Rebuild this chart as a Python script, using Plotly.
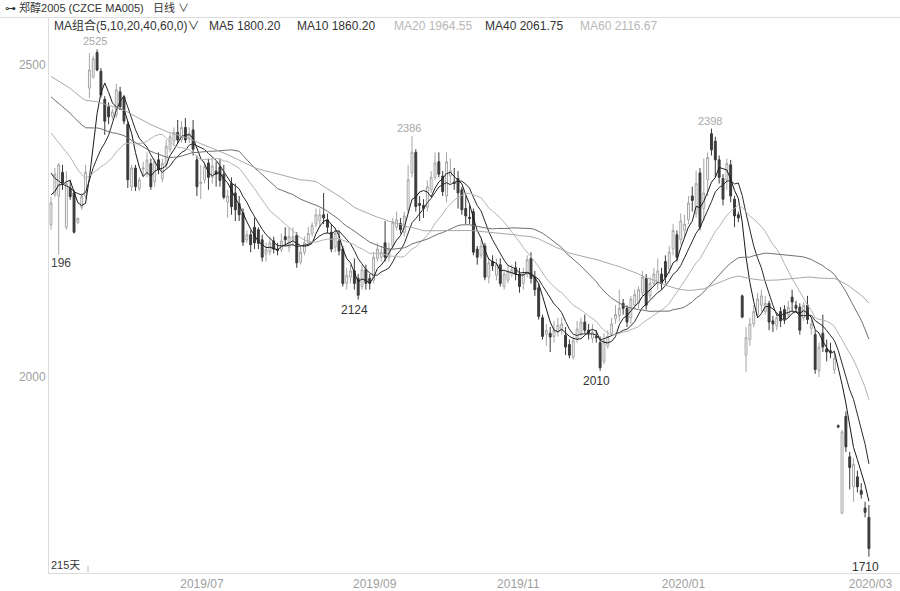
import plotly.graph_objects as go
import pandas as pd

# ---- data ----
history_closes = [2530, 2545, 2560, 2552, 2540, 2555, 2570, 2562, 2548, 2535,
                  2550, 2565, 2558, 2540, 2528, 2542, 2555, 2548, 2530, 2525,
                  2535, 2528, 2520, 2532, 2515, 2505, 2498, 2510, 2520, 2512,
                  2500, 2490, 2502, 2515, 2508, 2495, 2488, 2500, 2492, 2475,
                  2480, 2470, 2462, 2475, 2458, 2445, 2450, 2438, 2440, 2432,
                  2410, 2385, 2360, 2340, 2315, 2300, 2285, 2310, 2286]

opens = [2244, 2292, 2290, 2328, 2240, 2303, 2295, 2248, 2272, 2290,
         2463, 2481, 2520, 2490, 2445, 2433, 2418, 2420, 2457, 2449,
         2405, 2305, 2335, 2302, 2333, 2328, 2342, 2313, 2348, 2318,
         2340, 2365, 2378, 2392, 2380, 2400, 2383, 2396, 2348, 2310,
         2316, 2343, 2320, 2330, 2337, 2325, 2280, 2310, 2295, 2278,
         2263, 2220, 2228, 2240, 2236, 2220, 2197, 2200, 2218, 2205,
         2204, 2225, 2208, 2220, 2227, 2184, 2200, 2215, 2230, 2245,
         2250, 2260, 2252, 2232, 2208, 2218, 2205, 2150, 2160, 2170,
         2158, 2145, 2172, 2158, 2155, 2190, 2192, 2215, 2192, 2210,
         2240, 2246, 2232, 2268, 2327, 2360, 2278, 2275, 2272, 2300,
         2320, 2345, 2322, 2290, 2322, 2312, 2318, 2300, 2270, 2256,
         2265, 2205, 2195, 2210, 2160, 2185, 2163, 2180, 2145, 2155,
         2165, 2175, 2165, 2150, 2165, 2190, 2160, 2143, 2095, 2068,
         2070, 2065, 2072, 2075, 2067, 2052, 2032, 2060, 2070, 2088,
         2075, 2062, 2065, 2055, 2025, 2050, 2070, 2093, 2098, 2118,
         2110, 2095, 2115, 2118, 2135, 2158, 2130, 2150, 2150, 2165,
         2185, 2173, 2205, 2228, 2220, 2235, 2252, 2290, 2262, 2327,
         2270, 2316, 2390, 2378, 2348, 2318, 2316, 2340, 2285, 2260,
         2130, 2035, 2060, 2085, 2100, 2115, 2105, 2118, 2090, 2082,
         2105, 2108, 2100, 2128, 2115, 2112, 2095, 2115, 2078, 2068,
         2010, 2070, 2045, 2042, 2012, 1922, 1782, 1937, 1872, 1824,
         1840, 1818, 1790, 1775]

highs = [2289, 2335, 2343, 2340, 2330, 2316, 2300, 2256, 2295, 2340,
         2519, 2515, 2525, 2495, 2450, 2440, 2430, 2470, 2465, 2452,
         2410, 2340, 2340, 2320, 2345, 2360, 2350, 2350, 2360, 2350,
         2380, 2390, 2400, 2412, 2410, 2415, 2400, 2412, 2355, 2340,
         2345, 2350, 2350, 2345, 2350, 2340, 2300, 2320, 2310, 2290,
         2270, 2235, 2235, 2255, 2240, 2228, 2215, 2225, 2225, 2215,
         2230, 2240, 2240, 2240, 2232, 2210, 2225, 2240, 2248, 2270,
         2270, 2295, 2262, 2245, 2240, 2235, 2210, 2175, 2180, 2190,
         2165, 2180, 2180, 2165, 2200, 2215, 2210, 2250, 2215, 2255,
         2265, 2255, 2265, 2340, 2386, 2365, 2290, 2285, 2315, 2330,
         2360, 2360, 2330, 2360, 2350, 2335, 2330, 2305, 2290, 2275,
         2270, 2210, 2220, 2215, 2190, 2195, 2190, 2190, 2170, 2180,
         2180, 2185, 2175, 2175, 2195, 2200, 2170, 2150, 2100, 2085,
         2080, 2090, 2095, 2095, 2080, 2060, 2065, 2090, 2095, 2100,
         2085, 2085, 2075, 2065, 2070, 2075, 2095, 2115, 2140, 2125,
         2115, 2130, 2140, 2145, 2170, 2165, 2160, 2175, 2190, 2175,
         2195, 2210, 2245, 2235, 2262, 2260, 2290, 2305, 2330, 2335,
         2350, 2360, 2398, 2385, 2355, 2325, 2350, 2348, 2290, 2265,
         2132, 2080, 2095, 2115, 2135, 2140, 2130, 2122, 2098, 2100,
         2112, 2115, 2122, 2140, 2122, 2118, 2120, 2130, 2092, 2075,
         2055, 2100, 2060, 2055, 2040, 1924, 1915, 1945, 1880, 1870,
         1850, 1830, 1800, 1795]

lows = [2236, 2288, 2196, 2300, 2236, 2284, 2230, 2245, 2268, 2286,
        2447, 2478, 2490, 2448, 2388, 2405, 2413, 2415, 2428, 2405,
        2303, 2298, 2298, 2298, 2320, 2320, 2300, 2305, 2325, 2312,
        2335, 2360, 2370, 2375, 2375, 2375, 2375, 2355, 2290, 2285,
        2310, 2300, 2310, 2305, 2305, 2285, 2255, 2260, 2250, 2250,
        2210, 2215, 2200, 2205, 2205, 2185, 2185, 2195, 2198, 2195,
        2200, 2210, 2200, 2210, 2175, 2180, 2195, 2210, 2225, 2240,
        2240, 2245, 2230, 2200, 2200, 2195, 2145, 2140, 2150, 2140,
        2124, 2140, 2140, 2140, 2150, 2185, 2185, 2185, 2185, 2205,
        2235, 2230, 2225, 2262, 2320, 2265, 2250, 2255, 2265, 2295,
        2315, 2320, 2290, 2280, 2310, 2300, 2270, 2260, 2245, 2245,
        2195, 2180, 2190, 2155, 2150, 2170, 2155, 2145, 2140, 2150,
        2160, 2155, 2135, 2140, 2160, 2150, 2130, 2092, 2060, 2050,
        2040, 2055, 2065, 2068, 2035, 2030, 2028, 2055, 2065, 2070,
        2060, 2055, 2055, 2010, 2020, 2045, 2065, 2085, 2090, 2100,
        2080, 2085, 2110, 2110, 2130, 2108, 2125, 2145, 2140, 2140,
        2150, 2165, 2195, 2185, 2212, 2225, 2245, 2265, 2255, 2235,
        2250, 2290, 2355, 2320, 2310, 2275, 2300, 2280, 2240, 2248,
        2094, 2008, 2050, 2080, 2095, 2105, 2100, 2075, 2072, 2075,
        2080, 2085, 2095, 2105, 2105, 2068, 2090, 2085, 2068, 2005,
        2000, 2040, 2025, 2030, 2005, 1918, 1780, 1880, 1820, 1800,
        1815, 1805, 1775, 1712]

closes = [2279, 2325, 2340, 2311, 2310, 2289, 2232, 2254, 2289, 2328,
          2492, 2510, 2492, 2452, 2410, 2417, 2425, 2460, 2433, 2410,
          2316, 2335, 2305, 2316, 2335, 2348, 2305, 2345, 2332, 2342,
          2370, 2385, 2392, 2380, 2400, 2380, 2390, 2365, 2305, 2312,
          2337, 2320, 2338, 2325, 2315, 2288, 2290, 2273, 2268, 2260,
          2216, 2228, 2212, 2215, 2214, 2192, 2204, 2215, 2205, 2203,
          2218, 2220, 2225, 2225, 2183, 2200, 2215, 2230, 2243, 2260,
          2260, 2255, 2240, 2205, 2230, 2202, 2150, 2163, 2170, 2150,
          2131, 2172, 2150, 2150, 2192, 2205, 2200, 2192, 2205, 2248,
          2252, 2236, 2258, 2316, 2360, 2273, 2275, 2270, 2305, 2320,
          2343, 2325, 2297, 2345, 2330, 2310, 2295, 2268, 2258, 2254,
          2200, 2192, 2210, 2160, 2183, 2178, 2180, 2150, 2165, 2170,
          2172, 2165, 2145, 2165, 2188, 2158, 2140, 2097, 2065, 2075,
          2064, 2075, 2083, 2085, 2048, 2035, 2058, 2077, 2088, 2075,
          2070, 2072, 2063, 2015, 2058, 2065, 2085, 2100, 2110, 2110,
          2088, 2125, 2132, 2140, 2160, 2115, 2150, 2165, 2170, 2150,
          2160, 2200, 2235, 2192, 2250, 2245, 2279, 2283, 2310, 2240,
          2295, 2352, 2364, 2348, 2320, 2285, 2342, 2290, 2258, 2255,
          2096, 2063, 2085, 2105, 2125, 2130, 2118, 2088, 2085, 2095,
          2090, 2093, 2112, 2120, 2110, 2075, 2115, 2092, 2085, 2012,
          2048, 2048, 2040, 2040, 2030, 1920, 1912, 1888, 1855, 1860,
          1824, 1812, 1783, 1725]

tick_positions = [39.3, 84.3, 121.7, 164.7, 213.4]
tick_labels = ["2019/07", "2019/09", "2019/11", "2020/01", "2020/03"]
ma_periods = [5, 10, 20, 40, 60]
ma_colors = ["#1a1a1a", "#2a2a2a", "#b4b4b4", "#707070", "#a8a8a8"]
ma_values_text = ["1800.20", "1860.20", "1964.55", "2061.75", "2116.67"]
ma_text_colors = ["#333333", "#333333", "#b8b8b8", "#333333", "#b8b8b8"]

n = len(closes)
xs = list(range(n))
all_closes = pd.Series(history_closes + closes)

fig = go.Figure()
fig.add_trace(go.Candlestick(
    x=xs, open=opens, high=highs, low=lows, close=closes,
    increasing=dict(line=dict(color="#a6a6a6", width=1), fillcolor="#ffffff"),
    decreasing=dict(line=dict(color="#3a3a3a", width=1), fillcolor="#3a3a3a"),
    whiskerwidth=0, showlegend=False, hoverinfo="skip"))

for p, col in zip(ma_periods, ma_colors):
    ma = all_closes.rolling(p).mean().iloc[len(history_closes):].tolist()
    fig.add_trace(go.Scatter(x=xs, y=ma, mode="lines",
                             line=dict(color=col, width=1), showlegend=False,
                             hoverinfo="skip"))

FONT = "Liberation Sans, Arial, Noto Sans CJK SC, sans-serif"
L, R, T, B = 49, 0, 18, 18
W, H = 900, 591
pw, ph = W - L - R, H - T - B


def px(xp):
    return (xp - L) / pw


def py(yp):
    return (H - B - yp) / ph


ann = []
ann.append(dict(x=px(3), y=py(8), xref="paper", yref="paper", xanchor="left", yanchor="middle",
                text="⊶ 郑醇2005 (CZCE MA005)   日线 ∨", showarrow=False,
                font=dict(family=FONT, size=11, color="#333333")))
ann.append(dict(x=px(52), y=py(26), xref="paper", yref="paper", xanchor="left", yanchor="middle",
                text="MA组合(5,10,20,40,60,0)∨", showarrow=False,
                font=dict(family=FONT, size=12, color="#333333")))
ma_x = [207, 295, 392, 483, 578]
for p, xv, val, col in zip(ma_periods, ma_x, ma_values_text, ma_text_colors):
    ann.append(dict(x=px(xv), y=py(26), xref="paper", yref="paper", xanchor="left", yanchor="middle",
                    text=f"MA{p} {val}", showarrow=False,
                    font=dict(family=FONT, size=12, color=col)))


def peak(i, text, col, above=True, dx=0.0):
    if above:
        ann.append(dict(x=i + dx, y=highs[i], xref="x", yref="y", text=text, showarrow=False,
                        yanchor="bottom", yshift=0, font=dict(family=FONT, size=11, color=col)))
    else:
        ann.append(dict(x=i + dx, y=lows[i], xref="x", yref="y", text=text, showarrow=False,
                        yanchor="top", yshift=-1, font=dict(family=FONT, size=12, color=col)))


peak(12, "2525", "#a8a8a8", True, -0.5)
peak(94, "2386", "#a8a8a8", True, -0.8)
peak(172, "2398", "#a8a8a8", True, -0.5)
peak(80, "2124", "#333333", False, -1)
peak(143, "2010", "#333333", False, -1)
peak(213, "1710", "#333333", False, -1)
ann.append(dict(x=px(49), y=py(263), xref="paper", yref="paper", xanchor="left", yanchor="middle",
                text="196", showarrow=False, font=dict(family=FONT, size=12, color="#444444")))
ann.append(dict(x=px(49), y=py(565), xref="paper", yref="paper", xanchor="left", yanchor="middle",
                text="215天", showarrow=False, font=dict(family=FONT, size=11, color="#333333")))

shapes = [
    dict(type="line", xref="paper", yref="paper", x0=px(0), x1=px(900), y0=py(17.5), y1=py(17.5),
         line=dict(color="#dcdcdc", width=1)),
    dict(type="line", xref="paper", yref="paper", x0=px(88), x1=px(88), y0=py(566), y1=py(572),
         line=dict(color="#bbbbbb", width=1)),
]

ypp = 1.6026  # price per pixel
y_top = 2500 + (65 - T) * ypp
y_bot = 2500 - (H - B - 65) * ypp
x_per_px = 3.84
x0 = 0 - (51 - L) / x_per_px
x1 = x0 + pw / x_per_px

fig.update_layout(
    width=W, height=H, margin=dict(l=L, r=R, t=T, b=B),
    paper_bgcolor="white", plot_bgcolor="white",
    annotations=ann, shapes=shapes, showlegend=False,
    xaxis=dict(range=[x0, x1], rangeslider=dict(visible=False), showgrid=False, zeroline=False,
               showline=True, linecolor="#dcdcdc", linewidth=1, ticks="",
               tickvals=tick_positions, ticktext=tick_labels,
               tickfont=dict(family=FONT, size=12, color="#a0a0a0")),
    yaxis=dict(range=[y_bot, y_top], showgrid=False, zeroline=False, showline=True,
               linecolor="#dcdcdc", linewidth=1, ticks="", tickvals=[2000, 2500],
               ticktext=["2000", "2500"], ticklabelstandoff=0,
               tickfont=dict(family=FONT, size=12, color="#a0a0a0")),
)

fig.write_html("out.html", config={"displayModeBar": False},
               post_script="document.body.style.margin='0';document.body.style.overflow='hidden';")
